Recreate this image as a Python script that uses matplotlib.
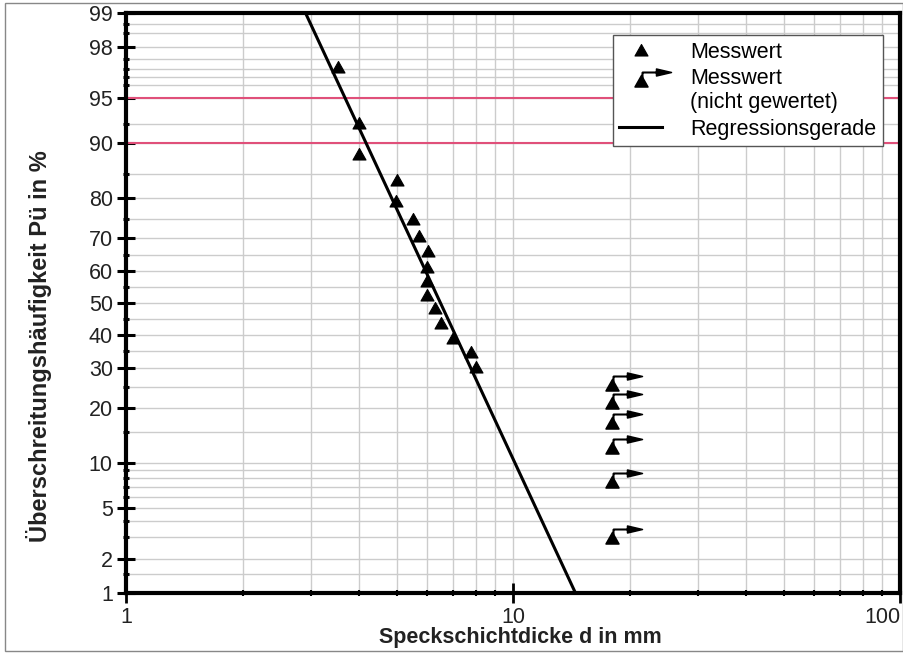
import math
import numpy as np
import matplotlib
matplotlib.use('Agg')
import matplotlib.pyplot as plt
from matplotlib.path import Path
from matplotlib.markers import MarkerStyle
from matplotlib.patches import Rectangle
from matplotlib.legend_handler import HandlerLine2D

plt.rcParams['font.family'] = ['Liberation Sans', 'DejaVu Sans']

# Messwerte (gewertet): Speckschichtdicke in mm, Ueberschreitungshaeufigkeit in %
d_mess = [3.53, 4.0, 4.0, 5.01, 4.99, 5.51, 5.71, 6.03, 5.99, 6.0, 6.0, 6.27, 6.53, 6.98, 7.77, 8.0]
p_mess = [97.1, 92.6, 88.4, 83.8, 79.3, 75.0, 70.4, 66.3, 61.5, 57.0, 52.6, 48.3, 43.7, 38.9, 34.7, 30.4]

# Messwerte (nicht gewertet)
d_ng = [18.0, 18.0, 18.0, 18.0, 18.0, 18.0]
p_ng = [25.5, 21.1, 16.7, 12.2, 7.6, 2.96]

# Regressionsgerade (Endpunkte)
d_reg = [2.91, 14.5]
p_reg = [99.0, 1.0]

# Grenzlinien
p_limits = [90, 95]

y_major = [1, 2, 5, 10, 20, 30, 40, 50, 60, 70, 80, 90, 95, 98, 99]
y_minor = [1.5, 3, 4, 6, 7, 8, 9, 15, 25, 35, 45, 55, 65, 75, 85, 92.5,
           96, 96.5, 97, 97.5, 98.5, 98.75]
x_major = [1, 10, 100]
x_labels = ['1', '10', '100']


# Wahrscheinlichkeitsnetz (Normalverteilung) - Acklam Naeherung
_a = [-3.969683028665376e+01, 2.209460984245205e+02, -2.759285104469687e+02,
      1.383577518672690e+02, -3.066479806614716e+01, 2.506628277459239e+00]
_b = [-5.447609879822406e+01, 1.615858368580409e+02, -1.556989798598866e+02,
      6.680131188771972e+01, -1.328068155288572e+01]
_c = [-7.784894002430293e-03, -3.223964580411365e-01, -2.400758277161838e+00,
      -2.549671348283239e+00, 4.374664141464968e+00, 2.938163982698783e+00]
_d = [7.784695709041462e-03, 3.224671290700398e-01, 2.445134137142996e+00,
      3.754408661907416e+00]


def _ppf(p):
    if not (0 < p < 1):
        return np.nan
    plow = 0.02425
    if p < plow:
        q = math.sqrt(-2 * math.log(p))
        return ((((((_c[0]*q+_c[1])*q+_c[2])*q+_c[3])*q+_c[4])*q+_c[5]) /
                ((((_d[0]*q+_d[1])*q+_d[2])*q+_d[3])*q+1))
    if p > 1 - plow:
        q = math.sqrt(-2 * math.log(1 - p))
        return -((((((_c[0]*q+_c[1])*q+_c[2])*q+_c[3])*q+_c[4])*q+_c[5]) /
                 ((((_d[0]*q+_d[1])*q+_d[2])*q+_d[3])*q+1))
    q = p - 0.5
    r = q * q
    return ((((((_a[0]*r+_a[1])*r+_a[2])*r+_a[3])*r+_a[4])*r+_a[5])*q /
            (((((_b[0]*r+_b[1])*r+_b[2])*r+_b[3])*r+_b[4])*r+1))


def forward(p):
    p = np.asarray(p, dtype=float)
    return np.vectorize(_ppf, otypes=[float])(p / 100.0)


def inverse(z):
    z = np.asarray(z, dtype=float)
    return np.vectorize(lambda v: 50.0 * (1 + math.erf(v / math.sqrt(2))), otypes=[float])(z)


# Legendensymbol nach oben schieben (an erste Textzeile)
class HandlerUp(HandlerLine2D):
    def __init__(self, shift, **kw):
        super().__init__(**kw)
        self.shift = shift

    def create_artists(self, legend, orig_handle, xdescent, ydescent, width, height,
                       fontsize, trans):
        return super().create_artists(legend, orig_handle, xdescent,
                                      ydescent - 2 * self.shift, width, height,
                                      fontsize, trans)


# Marker: Dreieck, und Dreieck mit Pfeil (Pixel-Einheiten)
tri = [(-6.5, -5.5), (6.5, -5.5), (0, 6), (-6.5, -5.5)]
tri_codes = [Path.MOVETO, Path.LINETO, Path.LINETO, Path.CLOSEPOLY]
tri_marker = MarkerStyle(Path(tri, tri_codes))

arr_verts = tri + [(1, 4), (1, 9), (15, 9), (1, 9), (1, 4),
                   (15, 12.5), (30, 9), (15, 5.5), (15, 12.5)]
arr_codes = tri_codes + [Path.MOVETO, Path.LINETO, Path.LINETO, Path.LINETO, Path.LINETO,
                         Path.MOVETO, Path.LINETO, Path.LINETO, Path.CLOSEPOLY]
arr_marker = MarkerStyle(Path(arr_verts, arr_codes))

px = 72 / 100.0
ms_tri = 2 * 6.5 * px
ms_arr = 2 * 30 * px

fig = plt.figure(figsize=(9.04, 6.53), dpi=100)
ax = fig.add_axes([0.1394, 0.0919, 0.8562, 0.8881])

ax.set_xscale('log')
ax.set_yscale('function', functions=(forward, inverse))
ax.set_xlim(1, 100)
ax.set_ylim(1, 99)

ax.set_yticks(y_major)
ax.set_yticklabels([str(v) for v in y_major])
ax.set_yticks(y_minor, minor=True)
ax.set_xticks(x_major)
ax.set_xticklabels(x_labels)
ax.set_xticks([v * m for m in (1, 10) for v in range(2, 10)], minor=True)
ax.xaxis.set_minor_formatter(plt.NullFormatter())
ax.yaxis.set_minor_formatter(plt.NullFormatter())
ax.get_xticklabels()[-1].set_horizontalalignment('right')

ax.grid(True, which='both', color='#cccccc', lw=1.0)
ax.set_axisbelow(True)

for p in p_limits:
    ax.axhline(p, color='#e0507a', lw=1.5, zorder=1.5)

ax.plot(d_reg, p_reg, color='black', lw=2.2, label='Regressionsgerade', zorder=3)
ax.plot(d_mess, p_mess, ls='none', marker=tri_marker, ms=ms_tri, color='black',
        mew=0.8, label='Messwert', zorder=4)
ng_line, = ax.plot(d_ng, p_ng, ls='none', marker=arr_marker, ms=ms_arr, color='black',
                   mew=1.1, label='Messwert\n(nicht gewertet)', zorder=4)

for s in ax.spines.values():
    s.set_linewidth(3)
    s.set_color('black')

ax.tick_params(axis='y', which='major', direction='inout', length=13, width=2.2,
               labelsize=15.5, pad=3, colors='black', labelcolor='#222222')
ax.tick_params(axis='y', which='minor', direction='inout', length=4, width=2.2)
ax.tick_params(axis='x', which='major', direction='inout', length=14, width=2,
               labelsize=15.5, pad=3, labelcolor='#222222')
ax.tick_params(axis='x', which='minor', direction='inout', length=5, width=1.5)

ax.set_xlabel('Speckschichtdicke d in mm', fontsize=15.5, fontweight='bold',
              color='#222222')
ax.xaxis.set_label_coords(0.509, -0.058)
ax.set_ylabel('Überschreitungshäufigkeit Pü in %', fontsize=17, fontweight='bold',
              color='#222222')
ax.yaxis.set_label_coords(-0.095, 0.426)

h, l = ax.get_legend_handles_labels()
order = [1, 2, 0]
leg = ax.legend([h[i] for i in order], [l[i] for i in order],
                loc='upper right', bbox_to_anchor=(0.978, 0.962), fontsize=15.5,
                frameon=True, fancybox=False, edgecolor='#555555', framealpha=1,
                borderaxespad=0, handlelength=2.0, handletextpad=1.3,
                labelspacing=0.25, borderpad=0.3,
                handler_map={ng_line: HandlerUp(7)})
leg.get_frame().set_linewidth(1.0)

fig.patches.append(Rectangle((0.005, 0.003), 0.994, 0.993, transform=fig.transFigure,
                             fill=False, edgecolor='#888888', lw=1.0))

fig.savefig('out.png', dpi=100)
